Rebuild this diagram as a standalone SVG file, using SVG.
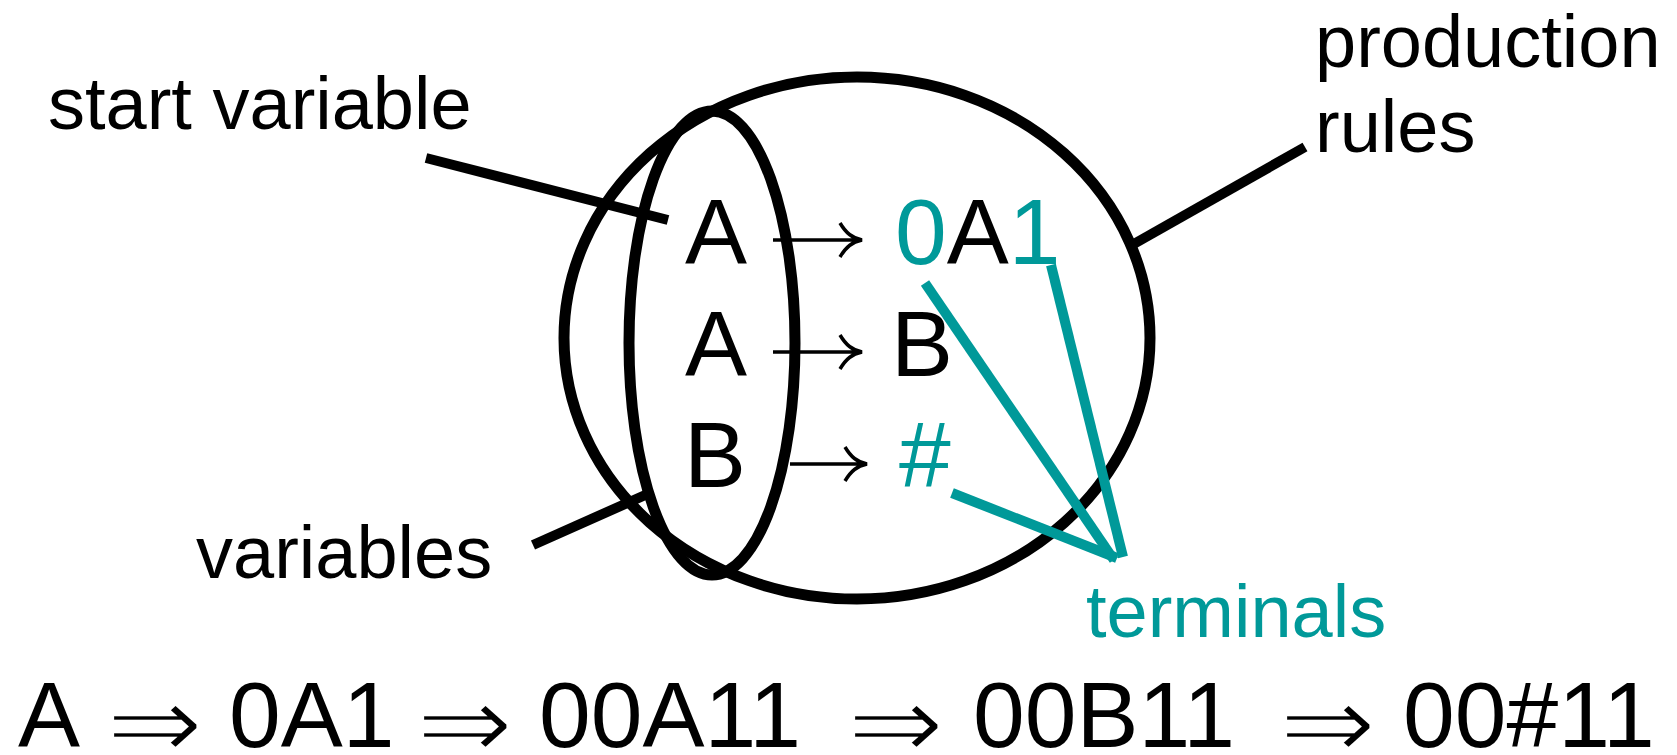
<svg xmlns="http://www.w3.org/2000/svg" width="1677" height="755" viewBox="0 0 1677 755">
  <style>
    .lbl { font-family: "Liberation Sans", Arial, sans-serif; font-size: 74px; fill: #000; }
    .sym { font-family: "Liberation Sans", Arial, sans-serif; font-size: 93px; fill: #000; }
    .teal { fill: #009999; }
    .dbl { font-family: "DejaVu Sans", sans-serif; font-size: 104px; fill: #000; stroke: #fff; stroke-width: 2.6; }
    .set { fill: none; stroke: #000; stroke-width: 11; }
    .lead { stroke: #000; stroke-width: 10; fill: none; }
    .tlead { stroke: #009999; stroke-width: 10; fill: none; }
    .rarr { stroke: #000; stroke-width: 3.5; fill: none; stroke-linecap: butt; }
  </style>

  <!-- set of production rules -->
  <g id="rules-set">
    <ellipse class="set" cx="857" cy="338" rx="293" ry="261"/>
  </g>

  <!-- set of variables (left-hand sides) -->
  <g id="variables-set">
    <ellipse class="set" cx="712" cy="343" rx="83" ry="232"/>
  </g>

  <!-- rule 1: A -> 0A1 -->
  <g id="rule-1">
    <text class="sym" x="685" y="264">A</text>
    <text class="sym" x="895" y="264"><tspan class="teal">0</tspan>A<tspan class="teal">1</tspan></text>
  </g>

  <!-- rule 2: A -> B -->
  <g id="rule-2">
    <text class="sym" x="685" y="376">A</text>
    <text class="sym" x="891" y="376">B</text>
  </g>

  <!-- rule 3: B -> # -->
  <g id="rule-3">
    <text class="sym" x="684" y="487">B</text>
    <text class="sym teal" x="899" y="487">#</text>
  </g>

  <!-- callout labels -->
  <g id="label-start">
    <text class="lbl" x="48" y="129">start variable</text>
  </g>
  <g id="label-variables">
    <text class="lbl" x="196" y="578">variables</text>
  </g>
  <g id="label-rules">
    <text class="lbl" x="1315" y="67">production</text>
    <text class="lbl" x="1315" y="152">rules</text>
  </g>
  <g id="label-terminals">
    <text class="lbl teal" x="1086" y="637">terminals</text>
  </g>

  <!-- derivation -->
  <g id="derivation">
    <text class="sym" x="18" y="747">A</text>
    <text class="dbl" transform="translate(106 759) scale(1.12 1)">⇒</text>
    <text class="sym" x="229" y="747">0A1</text>
    <text class="dbl" transform="translate(416 759) scale(1.12 1)">⇒</text>
    <text class="sym" x="539" y="747">00A11</text>
    <text class="dbl" transform="translate(847 759) scale(1.12 1)">⇒</text>
    <text class="sym" x="973" y="747">00B11</text>
    <text class="dbl" transform="translate(1279 759) scale(1.12 1)">⇒</text>
    <text class="sym" x="1403" y="747">00#11</text>
  </g>

  <g id="connectors">
    <!-- leader lines -->
    <line class="lead" x1="426" y1="158" x2="668" y2="220"/>
    <line class="lead" x1="533" y1="545" x2="652" y2="492"/>
    <line class="lead" x1="1132" y1="245" x2="1305" y2="147"/>
    <!-- terminal pointers -->
    <line class="tlead" x1="925" y1="283" x2="1114" y2="560"/>
    <line class="tlead" x1="1051" y1="265" x2="1123" y2="557"/>
    <line class="tlead" x1="952" y1="493" x2="1117" y2="558"/>
    <!-- rule arrows -->
    <path class="rarr" d="M773 240 H860 M840 223 C846 233 852 238 862 240 C852 242 846 247 840 257"/>
    <path class="rarr" d="M773 352 H860 M840 335 C846 345 852 350 862 352 C852 354 846 359 840 369"/>
    <path class="rarr" d="M790 464 H865 M845 447 C851 457 857 462 867 464 C857 466 851 471 845 481"/>
  </g>
</svg>
